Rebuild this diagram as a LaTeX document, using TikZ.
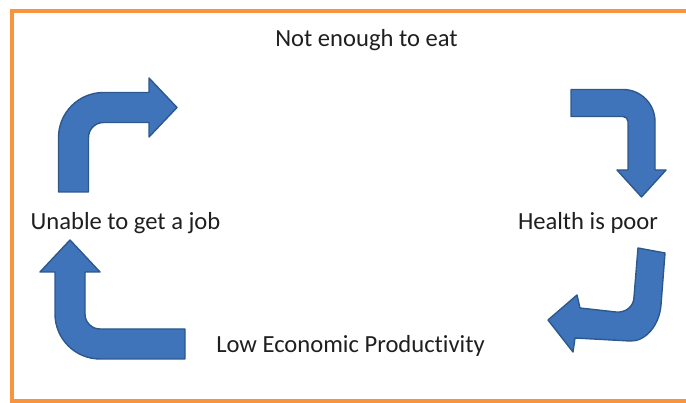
\documentclass[tikz,border=0pt]{standalone}
\usepackage{fontspec}
\setmainfont[Ligatures=NoCommon]{Carlito}
\usepackage{tikz}
\definecolor{arrowblue}{RGB}{64,116,186}
\definecolor{arrowedge}{RGB}{44,88,140}
\definecolor{frameorange}{RGB}{248,148,62}
\tikzset{
	bentarrow/.style={fill=arrowblue, draw=arrowedge, line width=1.4pt, line join=round},
	caption/.style={anchor=base, text=black!88, font=\fontsize{24.6}{30}\selectfont}
}

\begin{document}
\begin{tikzpicture}[x=1pt, y=-1pt]
		%%%%% START %%%%%
		\useasboundingbox (0, 0) rectangle (686, 403);
		\clip (0, 0) rectangle (686, 403);
		
		\draw[line width=4pt, color=frameorange] (690, 11.5) -- (11.5, 11.5) -- (11.5, 401) -- (690, 401);
		
		\node[caption] (eat) at (366.5, 46.5) {Not enough to eat};
		\node[caption] (health) at (588, 230) {Health is poor};
		\node[caption] (productivity) at (350.5, 353) {Low Economic Productivity};
		\node[caption] (job) at (125.5, 230) {Unable to get a job};
		
		% up, then right
		\draw[bentarrow] (58.5, 192) -- (58.5, 137.5) .. controls (58.5, 112.7) and (78.7, 92.5) .. (103.5, 92.5)
			-- (149, 92.5) -- (149, 78) -- (177, 107.5) -- (149, 137) -- (149, 122.5) -- (103.5, 122.5)
			.. controls (95.2, 122.5) and (88.5, 129.2) .. (88.5, 137.5) -- (88.5, 192) -- cycle;
		
		% right, then down
		\draw[bentarrow] (571, 89.5) -- (623, 89.5) .. controls (640.7, 89.5) and (655, 103.8) .. (655, 121.5)
			-- (655, 170) -- (666, 170) -- (641.5, 197) -- (617, 170) -- (628, 170) -- (628, 121.5)
			.. controls (628, 118.7) and (625.8, 116.5) .. (623, 116.5) -- (571, 116.5) -- cycle;
		
		% down, then left (a little tilted)
		\draw[bentarrow] (638, 248) -- (665, 253) -- (661, 305) .. controls (659.4, 325.3) and (645.4, 341.8) .. (630, 341)
			-- (575, 338) -- (573, 352) -- (548, 320) -- (577, 295) -- (580, 308) -- (616, 312)
			.. controls (626, 313) and (634, 306) .. (634, 297) -- cycle;
		
		% left, then up
		\draw[bentarrow] (185, 329) -- (100, 329) .. controls (91.7, 329) and (85, 322.3) .. (85, 314)
			-- (85, 272) -- (100, 272) -- (70, 240) -- (40, 272) -- (55, 272) -- (55, 314)
			.. controls (55, 338.8) and (75.2, 359) .. (100, 359) -- (185, 359) -- cycle;
		
		%%%%% END %%%%%
	\end{tikzpicture}
\end{document}
